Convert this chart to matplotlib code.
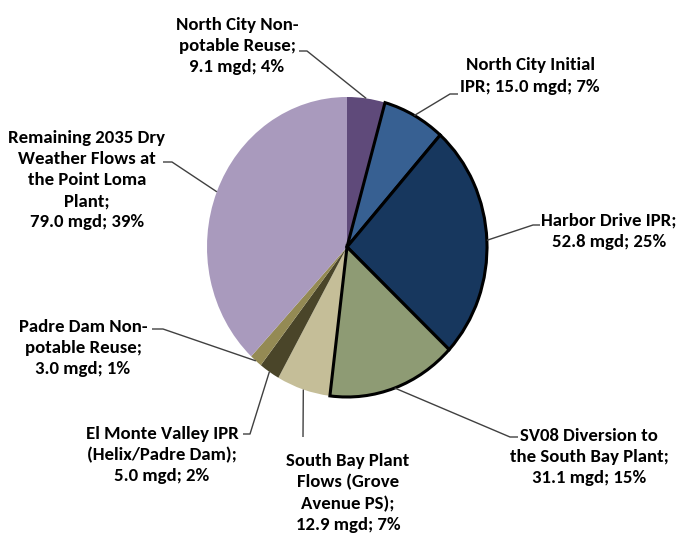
import numpy as np
import matplotlib
matplotlib.use("Agg")
import matplotlib.pyplot as plt

# ---- DATA ----
names = ["North City Non-\npotable Reuse;", "North City Initial\nIPR;", "Harbor Drive IPR;",
         "SV08 Diversion to\nthe South Bay Plant;", "South Bay Plant\nFlows (Grove\nAvenue PS);",
         "El Monte Valley IPR\n(Helix/Padre Dam);", "Padre Dam Non-\npotable Reuse;",
         "Remaining 2035 Dry\nWeather Flows at\nthe Point Loma\nPlant;"]
flows = [9.1, 15.0, 52.8, 31.1, 12.9, 5.0, 3.0, 79.0]
pcts = [4, 7, 25, 15, 7, 2, 1, 39]
colors = ["#5F4A7A", "#376092", "#17375E", "#8E9B74", "#C5BE98", "#4A4529", "#948A54", "#A99ABD"]
outlined = [False, True, True, True, False, False, False, False]

# label layout in image pixels: text centre, leader stub start, stub end
label_xy = [(237, 46), (530, 76), (609, 231), (589, 457), (348, 493), (162, 455), (83, 348), (87, 180)]
stubs = [((299, 51), (307, 51)), ((458, 94), (450, 94)), ((540, 225), (533, 225)),
         ((518, 437), (510, 437)), ((303, 437), (303, 437)), ((243, 434), (250, 434)),
         ((152, 329), (163, 329)), ((163, 162), (172, 162))]

W, H = 677, 539
cx, cy, rx, ry = 347, 247, 140, 150


def px(x, y):
    return (x - cx) / rx, (cy - y) / ry


def label_text(i):
    first = names[i]
    sep = " " if first.endswith("IPR;") and "\n" in first else "\n"
    return first + sep + "%.1f mgd; %d%%" % (flows[i], pcts[i])


plt.rcParams["font.family"] = ["Carlito", "DejaVu Sans"]

fig = plt.figure(figsize=(W / 100, H / 100), dpi=100)
ax = fig.add_axes([0, 0, 1, 1])
wedges, _ = ax.pie(flows, colors=colors, startangle=90, counterclock=False,
                   wedgeprops=dict(linewidth=0))
for w, o in zip(wedges, outlined):
    if o:
        w.set_edgecolor("black")
        w.set_linewidth(2.2)
        w.set_zorder(3)

ax.set_aspect("auto")
ax.set_xlim(px(0, 0)[0], px(W, 0)[0])
ax.set_ylim(px(0, H)[1], px(0, 0)[1])
ax.axis("off")

for i, w in enumerate(wedges):
    mid = np.deg2rad((w.theta1 + w.theta2) / 2)
    ex, ey = np.cos(mid), np.sin(mid)
    s0, s1 = stubs[i]
    p0, p1 = px(*s0), px(*s1)
    ax.plot([p0[0], p1[0], ex], [p0[1], p1[1], ey], color="#404040", lw=1, zorder=4,
            solid_capstyle="butt")
    lx, ly = px(*label_xy[i])
    ax.text(lx, ly, label_text(i), ha="center", va="center", multialignment="center",
            fontsize=13.5, fontweight="bold", color="black", linespacing=1.4)

fig.savefig("out.png", dpi=100)
